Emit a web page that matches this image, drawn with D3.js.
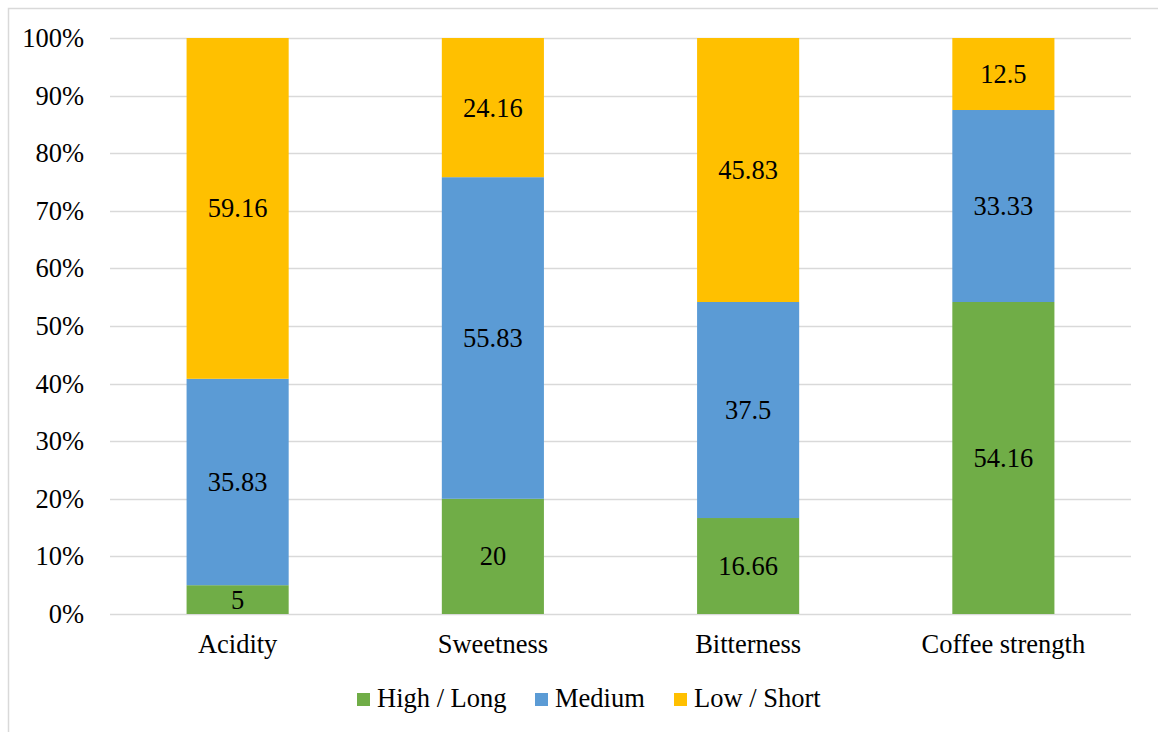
<!DOCTYPE html>
<html>
<head>
<meta charset="utf-8">
<script src="https://cdn.jsdelivr.net/npm/d3@7"></script>
<style>
  html, body { margin: 0; padding: 0; background: #fff; }
  svg text { font-family: "Liberation Serif", "Times New Roman", serif; fill: #000; }
</style>
</head>
<body>
<svg id="chart" width="1158" height="732"></svg>
<script>
// Sensory attribute ratings, percent of respondents per level
const categories = ["Acidity", "Sweetness", "Bitterness", "Coffee strength"];
const seriesNames = ["High / Long", "Medium", "Low / Short"];
const highLong = [5, 20, 16.66, 54.16];
const medium = [35.83, 55.83, 37.5, 33.33];
const lowShort = [59.16, 24.16, 45.83, 12.5];
const tickLabels = ["0%", "10%", "20%", "30%", "40%", "50%", "60%", "70%", "80%", "90%", "100%"];
const colors = ["#70ad47", "#5b9bd5", "#ffc000"];

const FONT = "Liberation Serif, Times New Roman, serif";
const FS = 26.5;

const svg = d3.select("#chart");

// outer chart frame
svg.append("rect")
  .attr("x", 8.5).attr("y", 8.5)
  .attr("width", 1160).attr("height", 740)
  .attr("fill", "none").attr("stroke", "#d9d9d9").attr("stroke-width", 1.5);

const plot = { left: 110, right: 1131, top: 38, bottom: 614 };

const x = d3.scaleBand().domain(categories)
  .range([plot.left, plot.right]).paddingInner(0.6).paddingOuter(0.3);
const y = d3.scaleLinear().domain([0, 1]).range([plot.bottom, plot.top]);

// gridlines
const ticks = d3.range(tickLabels.length).map(i => i / 10);
svg.append("g").selectAll("line").data(ticks).join("line")
  .attr("x1", plot.left).attr("x2", plot.right)
  .attr("y1", d => Math.round(y(d)) + 0.5).attr("y2", d => Math.round(y(d)) + 0.5)
  .attr("stroke", "#d9d9d9").attr("stroke-width", 1.5);

// y axis labels
const yAxis = svg.append("g").attr("transform", `translate(${plot.left},0)`)
  .call(d3.axisLeft(y).tickValues(ticks).tickFormat((d, i) => tickLabels[i]).tickSize(0).tickPadding(26));
yAxis.select(".domain").remove();
yAxis.attr("font-family", FONT).attr("font-size", FS);
yAxis.selectAll("text").attr("fill", "#000");

// stacked data normalised to 100%
const rows = categories.map((c, i) => {
  const vals = [highLong[i], medium[i], lowShort[i]];
  const total = d3.sum(vals);
  const r = { category: c, total };
  seriesNames.forEach((s, j) => r[s] = vals[j]);
  return r;
});
const stack = d3.stack().keys(seriesNames)
  .value((d, key) => d[key] / d.total);
const layers = stack(rows);

const layerG = svg.append("g").selectAll("g").data(layers).join("g")
  .attr("fill", (d, i) => colors[i]);

layerG.selectAll("rect").data(d => d.map(p => ({ p, key: d.key }))).join("rect")
  .attr("x", d => x(d.p.data.category))
  .attr("width", x.bandwidth())
  .attr("y", d => y(d.p[1]))
  .attr("height", d => y(d.p[0]) - y(d.p[1]));

// value labels
layerG.selectAll("text").data(d => d.map(p => ({ p, key: d.key }))).join("text")
  .attr("x", d => x(d.p.data.category) + x.bandwidth() / 2)
  .attr("y", d => (y(d.p[0]) + y(d.p[1])) / 2)
  .attr("text-anchor", "middle")
  .attr("dominant-baseline", "central")
  .attr("font-family", FONT).attr("font-size", FS).attr("fill", "#000")
  .text(d => d.p.data[d.key]);

// category axis
const xAxis = svg.append("g").attr("transform", `translate(0,${plot.bottom})`)
  .call(d3.axisBottom(x).tickSize(0).tickPadding(20));
xAxis.select(".domain").remove();
xAxis.attr("font-family", FONT).attr("font-size", FS);
xAxis.selectAll("text").attr("fill", "#000");

// legend
const legendItems = [
  { name: seriesNames[0], color: colors[0], x: 357 },
  { name: seriesNames[1], color: colors[1], x: 535 },
  { name: seriesNames[2], color: colors[2], x: 674 }
];
const legend = svg.append("g");
const li = legend.selectAll("g").data(legendItems).join("g")
  .attr("transform", d => `translate(${d.x},693)`);
li.append("rect").attr("width", 13).attr("height", 13).attr("fill", d => d.color);
li.append("text").attr("x", 20).attr("y", 14)
  .attr("font-family", FONT).attr("font-size", FS).attr("fill", "#000")
  .text(d => d.name);
</script>
</body>
</html>
